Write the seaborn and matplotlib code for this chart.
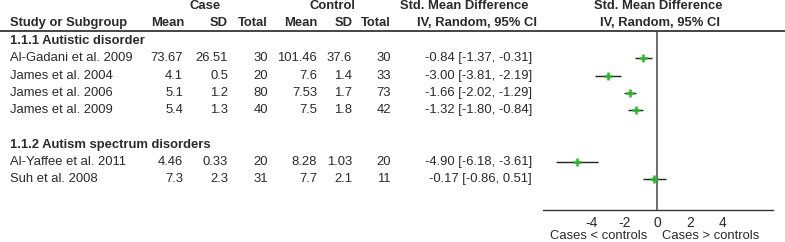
import numpy as np
import pandas as pd
import matplotlib
matplotlib.use('Agg')
import matplotlib.pyplot as plt
import seaborn as sns
from matplotlib.transforms import blended_transform_factory
from matplotlib.lines import Line2D

# data
studies = ['Al-Gadani et al. 2009', 'James et al. 2004', 'James et al. 2006',
           'James et al. 2009', 'Al-Yaffee et al. 2011', 'Suh et al. 2008']
case_mean = ['73.67', '4.1', '5.1', '5.4', '4.46', '7.3']
case_sd = ['26.51', '0.5', '1.2', '1.3', '0.33', '2.3']
case_n = [30, 20, 80, 40, 20, 31]
ctrl_mean = ['101.46', '7.6', '7.53', '7.5', '8.28', '7.7']
ctrl_sd = ['37.6', '1.4', '1.7', '1.8', '1.03', '2.1']
ctrl_n = [30, 33, 73, 42, 20, 11]
smd = [-0.84, -3.00, -1.66, -1.32, -4.90, -0.17]
ci_lo = [-1.37, -3.81, -2.02, -1.80, -6.18, -0.86]
ci_hi = [-0.31, -2.19, -1.29, -0.84, -3.61, 0.51]
subgroups = ['1.1.1 Autistic disorder', '1.1.2 Autism spectrum disorders']
group_of = [0, 0, 0, 0, 1, 1]
xticks = [-4, -2, 0, 2, 4]

# row layout: heading, studies, blank, heading, studies
rows, head_rows = [], []
r = 0
for g, name in enumerate(subgroups):
    if g > 0:
        r += 1
    head_rows.append(r)
    r += 1
    for i, gi in enumerate(group_of):
        if gi == g:
            rows.append(r)
            r += 1

df = pd.DataFrame({'study': studies, 'smd': smd, 'lo': ci_lo, 'hi': ci_hi, 'row': rows})

sns.set_theme(style='white')
plt.rcParams['font.family'] = ['Liberation Sans', 'DejaVu Sans']
plt.rcParams['axes.unicode_minus'] = False
txt = '#2a2a2a'
grey = '#555555'
fs = 9.4

W, H = 785, 242
fig = plt.figure(figsize=(W / 100, H / 100), dpi=100)
ax = fig.add_axes([543 / W, 1 - 210 / H, (773 - 543) / W, (210 - 31) / H])

ax.hlines(df['row'], df['lo'], df['hi'], color='#222222', lw=1.0, zorder=2)
sns.scatterplot(data=df, x='smd', y='row', marker='+', s=28, color='#22bb22',
                linewidth=1.8, ax=ax, zorder=3, legend=False)
ax.axvline(0, color=grey, lw=1.2, zorder=1)

ax.set_xlim(-7.0, 7.1)
ax.set_ylim(9.77, -0.58)
ax.set_xticks(xticks)
ax.set_xticklabels([str(t) for t in xticks], fontsize=fs + 0.6, color=txt)
ax.set_yticks([])
ax.set_xlabel('')
ax.set_ylabel('')
for s in ['top', 'right', 'left']:
    ax.spines[s].set_visible(False)
ax.spines['bottom'].set_color('#333333')
ax.spines['bottom'].set_linewidth(1.0)
ax.tick_params(axis='x', direction='inout', length=9, width=1.0, color='#333333', pad=0)
ax.patch.set_alpha(0)

tr = blended_transform_factory(fig.transFigure, ax.transData)

def fx(px):
    return px / W

def fy(py):
    return 1 - py / H

# header
bold = dict(fontsize=fs, color=txt, fontweight='bold')
fig.text(fx(205), fy(6), 'Case', ha='center', va='center', **bold)
fig.text(fx(332), fy(6), 'Control', ha='center', va='center', **bold)
fig.text(fx(464), fy(6), 'Std. Mean Difference', ha='center', va='center', **bold)
fig.text(fx(658), fy(6), 'Std. Mean Difference', ha='center', va='center', **bold)
fig.text(fx(10), fy(23), 'Study or Subgroup', ha='left', va='center', **bold)
for x, lab in [(184, 'Mean'), (228, 'SD'), (268, 'Total'), (317, 'Mean'), (353, 'SD'), (391, 'Total')]:
    fig.text(fx(x), fy(23), lab, ha='right', va='center', **bold)
fig.text(fx(477), fy(23), 'IV, Random, 95% CI', ha='center', va='center', **bold)
fig.text(fx(660), fy(23), 'IV, Random, 95% CI', ha='center', va='center', **bold)
fig.add_artist(Line2D([0, 1], [fy(31), fy(31)], transform=fig.transFigure,
                      color='#444444', lw=1.4))

# subgroup headings
for hr, name in zip(head_rows, subgroups):
    ax.text(fx(10), hr, name, transform=tr, ha='left', va='center', clip_on=False, **bold)

# study rows
for i in range(len(studies)):
    y = rows[i]
    kw = dict(transform=tr, va='center', fontsize=fs, color=txt, clip_on=False)
    ax.text(fx(10), y, studies[i], ha='left', **kw)
    cols = [(183, case_mean[i]), (228, case_sd[i]), (268, str(case_n[i])),
            (317, ctrl_mean[i]), (352, ctrl_sd[i]), (391, str(ctrl_n[i])),
            (532, f'{smd[i]:.2f} [{ci_lo[i]:.2f}, {ci_hi[i]:.2f}]')]
    for x, s in cols:
        ax.text(fx(x), y, s, ha='right', **kw)

fig.text(fx(599), fy(236), 'Cases < controls', ha='center', va='center', fontsize=fs, color=txt)
fig.text(fx(711), fy(236), 'Cases > controls', ha='center', va='center', fontsize=fs, color=txt)

fig.savefig('out.png', dpi=100)
